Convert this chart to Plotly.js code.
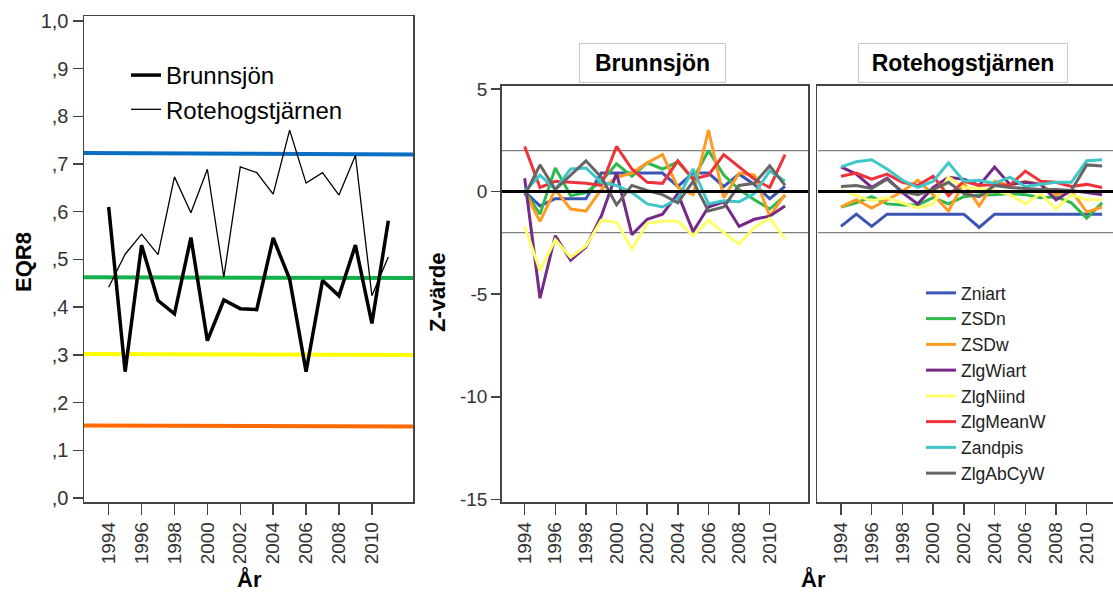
<!DOCTYPE html>
<html>
<head>
<meta charset="utf-8">
<script src="https://cdn.plot.ly/plotly-3.0.1.min.js"></script>
<style>html,body{margin:0;padding:0;background:#fff;}#chart{width:1113px;height:592px;}</style>
</head>
<body>
<div id="chart"></div>
<script>
// ---------- data ----------
const years = [1994,1995,1996,1997,1998,1999,2000,2001,2002,2003,2004,2005,2006,2007,2008,2009,2010,2011];

const eqrBrunnsjon = [0.61,0.265,0.53,0.414,0.386,0.546,0.33,0.415,0.397,0.395,0.545,0.459,0.265,0.456,0.424,0.53,0.366,0.581];
const eqrRotehog   = [0.442,0.511,0.553,0.51,0.673,0.598,0.689,0.463,0.694,0.682,0.637,0.771,0.66,0.682,0.635,0.718,0.424,0.505];

// class boundaries (start, end of line)
const refLevelsStart = [0.723,0.463,0.302,0.152];
const refLevelsEnd   = [0.720,0.461,0.300,0.150];
const refColors = ['#0a6fc2','#14b04c','#ffff00','#ff6a00'];

const eqrTickVals  = [0,0.1,0.2,0.3,0.4,0.5,0.6,0.7,0.8,0.9,1.0];
const eqrTickText  = [',0',',1',',2',',3',',4',',5',',6',',7',',8',',9','1,0'];
const yearTicks    = [1994,1996,1998,2000,2002,2004,2006,2008,2010];
const zTicks       = [5,0,-5,-10,-15];
const zRefLines    = [2,-2];
const zZeroLine    = [0];

const seriesNames = ['Zniart','ZSDn','ZSDw','ZlgWiart','ZlgNiind','ZlgMeanW','Zandpis','ZlgAbCyW'];
const seriesColors = ['#3b55b5','#2fb84c','#ff9b22','#762a88','#ffff6e','#f0333a','#3ec6c9','#666666'];

// Brunnsjön Z-values
const bZniart   = [0,-0.7,-0.35,-0.35,-0.35,0.9,0.9,0.9,0.9,0.9,0.25,0.9,0.9,0.25,0.85,0.35,-0.35,0.25];
const bZSDn     = [0,-1.1,1.15,-0.2,-0.05,0.5,1.35,0.75,1.4,1.1,1.45,0.6,2.0,0.8,0.1,-0.4,-0.85,-0.2];
const bZSDw     = [0,-1.45,0.1,-0.85,-0.95,0.1,0.7,0.9,1.4,1.8,0.2,-0.15,3.0,-0.3,0.9,0.8,-1.2,-0.15];
const bZlgWiart = [0.65,-5.2,-2.15,-3.35,-2.7,-1.2,0.9,-2.1,-1.35,-1.1,-0.1,-1.95,-0.75,-0.5,-1.7,-1.35,-1.2,-0.7];
const bZlgNiind = [-1.7,-3.85,-2.35,-3.2,-2.65,-1.4,-1.5,-2.8,-1.55,-1.45,-1.45,-2.15,-1.4,-2.0,-2.55,-1.75,-1.3,-2.3];
const bZlgMeanW = [2.2,0.2,0.5,0.45,0.4,0.3,2.2,1.1,0.45,0.4,1.5,0.6,0.8,1.8,1.2,0.6,0.2,1.8];
const bZandpis  = [0,0.8,0.1,1.1,1.15,0.45,0.3,-0.05,-0.6,-0.75,-0.35,1.1,-0.6,-0.45,-0.5,-0.1,1.0,0.5];
const bZlgAbCyW = [-0.2,1.3,0.1,0.8,1.5,0.7,-0.65,0.3,0.05,-0.15,-0.55,0.5,-0.95,-0.75,0.3,0.4,1.25,0.3];

// Rotehogstjärnen Z-values
const rZniart   = [-1.7,-1.1,-1.7,-1.1,-1.1,-1.1,-1.1,-1.1,-1.1,-1.75,-1.1,-1.1,-1.1,-1.1,-1.1,-1.1,-1.1,-1.1];
const rZSDn     = [-0.75,-0.55,-0.25,-0.6,-0.65,-0.65,-0.3,-0.6,-0.25,-0.15,-0.15,-0.1,-0.15,-0.3,-0.25,-0.55,-1.3,-0.55];
const rZSDw     = [-0.75,-0.4,-0.8,-0.4,0.0,0.55,-0.15,-0.95,0.4,-0.7,0.5,0.3,0.5,0.35,-0.15,0.05,-1.0,-0.75];
const rZlgWiart = [1.2,0.85,0.2,0.65,-0.05,-0.6,0.2,0.7,0.6,0.3,1.2,0.35,0.45,0.35,-0.4,0.05,-0.05,-0.15];
const rZlgNiind = [0.1,-0.2,-0.45,-0.3,-0.55,-0.8,-0.6,0.7,0.2,0.15,0.05,-0.15,-0.6,-0.1,-0.85,-0.15,-0.4,-0.4];
const rZlgMeanW = [0.75,0.9,0.6,0.85,0.45,0.3,0.75,-0.2,0.5,0.3,0.35,0.3,1.0,0.5,0.45,0.25,0.35,0.2];
const rZandpis  = [1.2,1.45,1.55,1.1,0.55,0.2,0.5,1.4,0.5,0.55,0.4,0.7,0.25,0.35,0.45,0.45,1.5,1.55];
const rZlgAbCyW = [0.25,0.3,0.15,0.6,0.0,-0.15,0.1,0.45,-0.1,-0.25,0.3,0.2,0.15,0.1,0.1,0.05,1.3,1.25];

const bSeries = [bZniart,bZSDn,bZSDw,bZlgWiart,bZlgNiind,bZlgMeanW,bZandpis,bZlgAbCyW];
const rSeries = [rZniart,rZSDn,rZSDw,rZlgWiart,rZlgNiind,rZlgMeanW,rZandpis,rZlgAbCyW];

// ---------- traces ----------
const FONT = 'Liberation Sans, Arial, sans-serif';
const xSpan = [1992.5, 2012.5];
const traces = [];

refLevelsStart.forEach((v,i) => {
  traces.push({x: xSpan, y: [v, refLevelsEnd[i]], mode:'lines', xaxis:'x', yaxis:'y',
    line:{color: refColors[i], width: 4}, showlegend:false, hoverinfo:'skip'});
});
traces.push({x: years, y: eqrBrunnsjon, name:'Brunnsjön', mode:'lines', xaxis:'x', yaxis:'y',
  line:{color:'#000', width:3.5}, legend:'legend'});
traces.push({x: years, y: eqrRotehog, name:'Rotehogstjärnen', mode:'lines', xaxis:'x', yaxis:'y',
  line:{color:'#000', width:1.3}, legend:'legend'});

// Z panels reference lines
[['x2','y2'],['x3','y3']].forEach(([xa,ya]) => {
  zRefLines.forEach(v => traces.push({x:xSpan, y:[v,v], mode:'lines', xaxis:xa, yaxis:ya,
    line:{color:'#808080', width:1.2}, showlegend:false, hoverinfo:'skip'}));
});

bSeries.forEach((s,i) => traces.push({x: years, y: s, name: seriesNames[i], mode:'lines',
  xaxis:'x2', yaxis:'y2', line:{color: seriesColors[i], width:3}, showlegend:false}));
rSeries.forEach((s,i) => traces.push({x: years, y: s, name: seriesNames[i], mode:'lines',
  xaxis:'x3', yaxis:'y3', line:{color: seriesColors[i], width:3}, legend:'legend2'}));

[['x2','y2'],['x3','y3']].forEach(([xa,ya]) => {
  zZeroLine.forEach(v => traces.push({x:xSpan, y:[v,v], mode:'lines', xaxis:xa, yaxis:ya,
    line:{color:'#000', width:3}, showlegend:false, hoverinfo:'skip'}));
});

// ---------- layout ----------
const W = 1113, H = 592;
const px = v => v / W;
const py = v => (H - v) / H;

const axisLine = {showline:true, linecolor:'#444', linewidth:1.5, zeroline:false, showgrid:false};
const xCommon = Object.assign({}, axisLine, {
  tickmode:'array', tickvals: yearTicks, ticktext: yearTicks.map(String),
  ticks:'outside', ticklen:11, tickwidth:1.5, tickcolor:'#444', tickangle:-90,
  tickfont:{family:FONT, size:19, color:'#333'}, mirror:true, fixedrange:true
});

const titleAnn = (text, x, y, size, angle) => ({text:'<b>'+text+'</b>', xref:'paper', yref:'paper',
  x:px(x), y:py(y), xanchor:'center', yanchor:'middle', showarrow:false, textangle: angle || 0,
  font:{family:FONT, size:size, color:'#000'}});

const layout = {
  width: W, height: H,
  margin:{l:0,r:0,t:0,b:0},
  paper_bgcolor:'#fff', plot_bgcolor:'#fff',
  font:{family:FONT, color:'#000'},
  xaxis: Object.assign({}, xCommon, {domain:[px(84), px(413)], range: xSpan, anchor:'y'}),
  yaxis: Object.assign({}, axisLine, {domain:[py(502), py(16)], range:[-0.008, 1.01], anchor:'x',
    tickmode:'array', tickvals: eqrTickVals, ticktext: eqrTickText, ticks:'outside', ticklen:10,
    tickwidth:1.5, tickcolor:'#444', tickfont:{family:FONT, size:20, color:'#333'}, mirror:true}),
  xaxis2: Object.assign({}, xCommon, {domain:[px(501.7), px(808)], range: xSpan, anchor:'y2'}),
  yaxis2: Object.assign({}, axisLine, {domain:[py(502), py(85.7)], range:[-15.13, 5.16], anchor:'x2',
    tickmode:'array', tickvals: zTicks, ticktext: zTicks.map(String), ticks:'outside', ticklen:9,
    tickwidth:1.5, tickcolor:'#444', tickfont:{family:FONT, size:19, color:'#333'}, mirror:true}),
  xaxis3: Object.assign({}, xCommon, {domain:[px(817.3), 1], range:[1992.46, 2011.71], anchor:'y3'}),
  yaxis3: Object.assign({}, axisLine, {domain:[py(502), py(85.7)], range:[-15.13, 5.16], anchor:'x3',
    showticklabels:false, ticks:'', mirror:false}),
  legend:{x:px(126), y:py(53), xanchor:'left', yanchor:'top', bgcolor:'rgba(0,0,0,0)',
    font:{family:FONT, size:24, color:'#000'}, tracegroupgap:0},
  legend2:{x:px(921), y:py(275), xanchor:'left', yanchor:'top', bgcolor:'rgba(0,0,0,0)',
    font:{family:FONT, size:17.5, color:'#222'}, tracegroupgap:0},
  annotations:[
    Object.assign(titleAnn('Brunnsjön', 652, 63, 23), {bordercolor:'#c8c8c8', borderwidth:1, bgcolor:'#fff',
      width:141, height:34, borderpad:2}),
    Object.assign(titleAnn('Rotehogstjärnen', 963, 63, 23), {bordercolor:'#c8c8c8', borderwidth:1, bgcolor:'#fff',
      width:204, height:34, borderpad:2}),
    titleAnn('EQR8', 23, 262, 22, -90),
    titleAnn('Z-värde', 437, 293, 22, -90),
    titleAnn('År', 249, 579, 22),
    titleAnn('År', 813, 579, 22)
  ]
};

Plotly.newPlot('chart', traces, layout, {displayModeBar:false, staticPlot:true});
</script>
</body>
</html>
